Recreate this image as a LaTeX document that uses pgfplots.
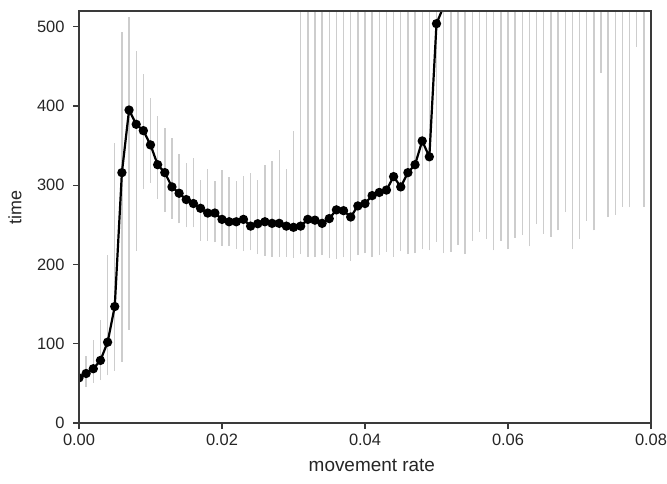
\documentclass[border=0pt]{standalone}
\usepackage{fontspec}
\setmainfont{Liberation Sans}
\usepackage{pgfplots}
\usepackage{pgfplotstable}
\pgfplotsset{compat=1.18}
\usetikzlibrary{calc}
\definecolor{barGray}{HTML}{CDCDCD}
\definecolor{axGray}{HTML}{3A3A3A}

% mean time per movement rate
\pgfplotstableread{
x      m
0.000  57
0.001  62.5
0.002  68.5
0.003  79
0.004  102
0.005  147
0.006  316
0.007  395
0.008  377
0.009  369
0.010  351
0.011  326
0.012  316
0.013  298
0.014  290
0.015  282
0.016  277
0.017  271
0.018  265
0.019  265
0.020  257
0.021  254
0.022  254
0.023  257
0.024  248.5
0.025  251.5
0.026  254
0.027  252
0.028  252
0.029  248.5
0.030  247
0.031  248.5
0.032  257
0.033  256
0.034  252
0.035  258
0.036  269
0.037  268
0.038  260
0.039  274
0.040  277
0.041  287
0.042  291
0.043  294
0.044  311
0.045  298
0.046  316
0.047  326
0.048  356
0.049  336
0.050  504
0.051  526
}\meantab

% error bar ends (low, high)
\pgfplotstableread{
x      lo    hi
0.000  52    63
0.001  46    84
0.002  51    105
0.003  54    130
0.004  60    212
0.005  66    354
0.006  77    493
0.007  118   513
0.008  217   470
0.009  295   441
0.010  303   410
0.011  283   387
0.012  266   372
0.013  258   360
0.014  252   340
0.015  247   328
0.016  247   335
0.017  230   307
0.018  230   320
0.019  228   306
0.020  224   319
0.021  224   311
0.022  220   305
0.023  217   312
0.024  218   315
0.025  213   307
0.026  211   326
0.027  210   331
0.028  210   345
0.029  210   321
0.030  208   369
0.031  213   600
0.032  210   600
0.033  209   600
0.034  212   600
0.035  208   600
0.036  207   600
0.037  209   600
0.038  205   600
0.039  212   600
0.040  214   600
0.041  209   600
0.042  212   600
0.043  216   600
0.044  210   600
0.045  217   600
0.046  213   600
0.047  214   600
0.048  219   600
0.049  218   600
0.050  229   600
0.051  214   600
0.052  216   600
0.053  225   600
0.054  213   600
0.055  230   600
0.056  241   600
0.057  232   600
0.058  218   600
0.059  230   600
0.060  219   600
0.061  234   600
0.062  237   600
0.063  223   600
0.064  251   600
0.065  239   600
0.066  235   600
0.067  243   600
0.068  266   600
0.069  219   600
0.070  232   600
0.071  255   600
0.072  243   600
0.073  442   600
0.074  260   600
0.075  263   600
0.076  273   600
0.077  272   600
0.078  475   600
0.079  273   600
}\errtab

\begin{document}
\begin{tikzpicture}
\begin{axis}[
  name=ax,
  scale only axis,
  width=572bp, height=412bp,
  xmin=0, xmax=0.08, ymin=0, ymax=520,
  xtick={0,0.02,0.04,0.06,0.08},
  xticklabels={0.00,0.02,0.04,0.06,0.08},
  ytick={0,100,200,300,400,500},
  yticklabels={0,100,200,300,400,500},
  scaled x ticks=false,
  tick align=outside, xtick pos=left, ytick pos=left,
  major tick length=6bp,
  axis line style={axGray, line width=1.4bp},
  tick style={axGray, line width=1.2bp},
  tick label style={font=\fontsize{16.5}{18}\selectfont, text=black!85},
  yticklabel style={xshift=-5bp},
  xticklabel style={yshift=-1bp},
  xlabel={movement rate},
  ylabel={time},
  xlabel style={font=\fontsize{19}{22}\selectfont, text=black!85,
    at={(axis description cs:0.512,-0.104)}, anchor=center},
  ylabel style={font=\fontsize{18}{21}\selectfont, text=black!85,
    at={(axis description cs:-0.112,0.524)}, anchor=center},
  axis on top,
  clip marker paths=true,
]
\addplot[draw=none, mark=none, forget plot,
  error bars/.cd, y dir=plus, y explicit, error mark=none,
  error bar style={barGray, line width=1.4bp}]
  table[x=x, y=lo, y error expr=\thisrow{hi}-\thisrow{lo}] {\errtab};
\addplot[black, line width=2.2bp, mark=*, mark size=3.5bp,
  mark options={fill=black, solid}] table[x=x, y=m] {\meantab};
\end{axis}
\pgfresetboundingbox
\path ($(ax.south west)+(-79bp,-60bp)$) rectangle ($(ax.north east)+(16bp,11bp)$);
\end{tikzpicture}
\end{document}
